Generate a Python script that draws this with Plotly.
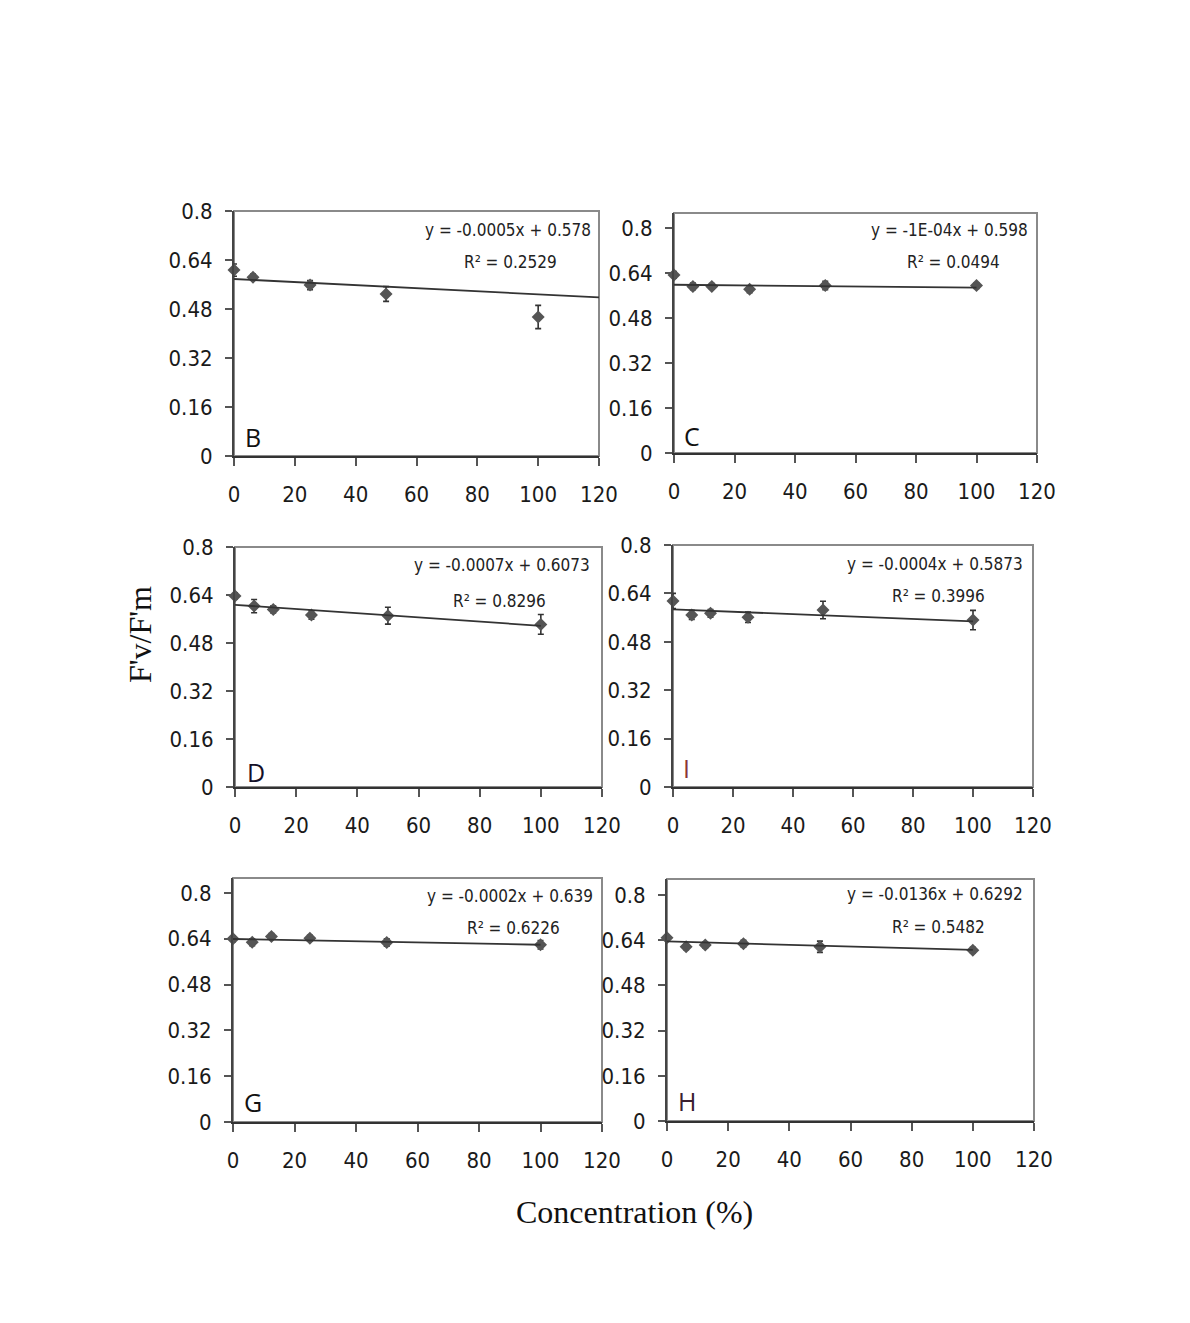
import plotly.graph_objects as go

# ---------------- data ----------------
panel_labels = ["B", "C", "D", "I", "G", "H"]
conc_B = [0, 6.25, 25, 50, 100]
conc_C = [0, 6.25, 12.5, 25, 50, 100]
conc_D = [0, 6.25, 12.5, 25, 50, 100]
conc_I = [0, 6.25, 12.5, 25, 50, 100]
conc_G = [0, 6.25, 12.5, 25, 50, 100]
conc_H = [0, 6.25, 12.5, 25, 50, 100]

fvfm_B = [0.607, 0.584, 0.558, 0.529, 0.454]
fvfm_C = [0.633, 0.592, 0.592, 0.582, 0.595, 0.595]
fvfm_D = [0.637, 0.603, 0.592, 0.573, 0.571, 0.542]
fvfm_I = [0.615, 0.569, 0.574, 0.561, 0.585, 0.552]
fvfm_G = [0.640, 0.628, 0.648, 0.642, 0.627, 0.619]
fvfm_H = [0.649, 0.617, 0.623, 0.628, 0.617, 0.605]

err_B = [0.020, 0.010, 0.015, 0.024, 0.038]
err_C = [0.012, 0.012, 0.010, 0.012, 0.015, 0.010]
err_D = [0.010, 0.022, 0.012, 0.014, 0.028, 0.033]
err_I = [0.025, 0.015, 0.013, 0.017, 0.029, 0.032]
err_G = [0.010, 0.012, 0.010, 0.010, 0.013, 0.015]
err_H = [0.008, 0.010, 0.010, 0.012, 0.020, 0.010]

# drawn trend lines (intercept, slope, x extent)
trend_b0 = [0.578, 0.598, 0.6073, 0.5873, 0.639, 0.636]
trend_b1 = [-0.0005, -0.0001, -0.0007, -0.0004, -0.0002, -0.0003]
trend_xmax = [120, 100, 100, 100, 100, 100]

eq_text = ["y = -0.0005x + 0.578", "y = -1E-04x + 0.598", "y = -0.0007x + 0.6073",
           "y = -0.0004x + 0.5873", "y = -0.0002x + 0.639", "y = -0.0136x + 0.6292"]
r2_text = ["R² = 0.2529", "R² = 0.0494", "R² = 0.8296",
           "R² = 0.3996", "R² = 0.6226", "R² = 0.5482"]

y_tickvals = [0, 0.16, 0.32, 0.48, 0.64, 0.8]
y_ticktext = ["0", "0.16", "0.32", "0.48", "0.64", "0.8"]
x_tickvals = [0, 20, 40, 60, 80, 100, 120]
x_ticktext = ["0", "20", "40", "60", "80", "100", "120"]

concs = [conc_B, conc_C, conc_D, conc_I, conc_G, conc_H]
vals = [fvfm_B, fvfm_C, fvfm_D, fvfm_I, fvfm_G, fvfm_H]
errs = [err_B, err_C, err_D, err_I, err_G, err_H]

# ---------------- layout geometry (pixels) ----------------
W, H = 1190, 1323
def px(x): return x / W
def py(y): return 1 - y / H

# (left, right, top, bottom, ymax)
boxes = [
    (234, 599, 211, 456, 0.8),
    (674, 1037, 213, 453, 0.853),
    (235, 602, 547, 787, 0.8),
    (673, 1033, 545, 787, 0.8),
    (233, 602, 878, 1122, 0.852),
    (667, 1034, 879, 1121, 0.857),
]
eq_pos = [(593, 230, 559, 262), (1030, 230, 1002, 262), (592, 565, 548, 601),
          (1025, 564, 987, 596), (595, 896, 562, 928), (1025, 894, 987, 927)]
letter_pos = [(253, 437), (692, 436), (256, 772), (687, 768), (253, 1102), (687, 1101)]
letter_col = ["#111111", "#111111", "#141028", "#8b3535", "#111111", "#3a2030"]

narrow = "DejaVu Sans Condensed, Liberation Sans Narrow, Arial Narrow, Liberation Sans, sans-serif"

fig = go.Figure()
layout = dict(width=W, height=H,
              margin=dict(l=0, r=0, t=0, b=0, pad=0, autoexpand=False),
              paper_bgcolor="white", plot_bgcolor="white", showlegend=False)
shapes, annotations = [], []

for i in range(6):
    l, r, t, b, ymax = boxes[i]
    suf = "" if i == 0 else str(i + 1)
    xa, ya = "x" + suf, "y" + suf
    fig.add_trace(go.Scatter(
        x=concs[i], y=vals[i], mode="markers", xaxis=xa, yaxis=ya,
        cliponaxis=False,
        marker=dict(symbol="diamond", size=10, color="#555555"),
        error_y=dict(type="data", array=errs[i], visible=True,
                     color="#333333", thickness=1.6, width=3)))
    xs = [0, trend_xmax[i]]
    ys = [trend_b0[i] + trend_b1[i] * x for x in xs]
    fig.add_trace(go.Scatter(x=xs, y=ys, mode="lines", xaxis=xa, yaxis=ya,
                             line=dict(color="#333333", width=1.8)))
    layout["xaxis" + suf] = dict(
        domain=[px(l), px(r)], range=[0, 120], anchor=ya, automargin=False,
        tickvals=x_tickvals, ticktext=x_ticktext, ticks="outside", ticklen=8,
        tickwidth=2, tickcolor="#555555", showline=True, linecolor="#333333",
        linewidth=2, showgrid=False, zeroline=False, ticklabelstandoff=10,
        tickfont=dict(family=narrow, size=22, color="#1a1a1a"))
    layout["yaxis" + suf] = dict(
        domain=[py(b), py(t)], range=[0, ymax], anchor=xa, automargin=False,
        tickvals=y_tickvals, ticktext=y_ticktext, ticks="outside", ticklen=7,
        tickwidth=2, tickcolor="#555555", showline=True, linecolor="#444444",
        linewidth=2, showgrid=False, zeroline=False, ticklabelstandoff=8,
        tickfont=dict(family=narrow, size=22, color="#1a1a1a"))
    shapes.append(dict(type="rect", xref=xa + " domain", yref=ya + " domain",
                       x0=0, x1=1, y0=0, y1=1,
                       line=dict(color="#8a8a8a", width=2), layer="below"))
    ex, ey, rx, ry = eq_pos[i]
    annotations.append(dict(x=px(ex), y=py(ey), xref="paper", yref="paper",
                            text=eq_text[i], showarrow=False, xanchor="right",
                            yanchor="middle",
                            font=dict(family=narrow, size=17, color="#222222")))
    annotations.append(dict(x=px(rx), y=py(ry), xref="paper", yref="paper",
                            text=r2_text[i], showarrow=False, xanchor="right",
                            yanchor="middle",
                            font=dict(family=narrow, size=17, color="#222222")))
    lx, ly = letter_pos[i]
    annotations.append(dict(x=px(lx), y=py(ly), xref="paper", yref="paper",
                            text=panel_labels[i], showarrow=False,
                            xanchor="center", yanchor="middle",
                            font=dict(family="Open Sans, Liberation Sans, sans-serif",
                                      size=25, color=letter_col[i])))

annotations.append(dict(x=px(140), y=py(635), xref="paper", yref="paper",
                        text="F'v/F'm", showarrow=False, textangle=-90,
                        xanchor="center", yanchor="middle",
                        font=dict(family="Liberation Serif, Times New Roman, serif",
                                  size=32, color="#111111")))
annotations.append(dict(x=px(634), y=py(1212), xref="paper", yref="paper",
                        text="Concentration (%)", showarrow=False,
                        xanchor="center", yanchor="middle",
                        font=dict(family="Liberation Serif, Times New Roman, serif",
                                  size=32, color="#111111")))

layout["shapes"] = shapes
layout["annotations"] = annotations
fig.update_layout(**layout)
fig.write_html("out.html")
